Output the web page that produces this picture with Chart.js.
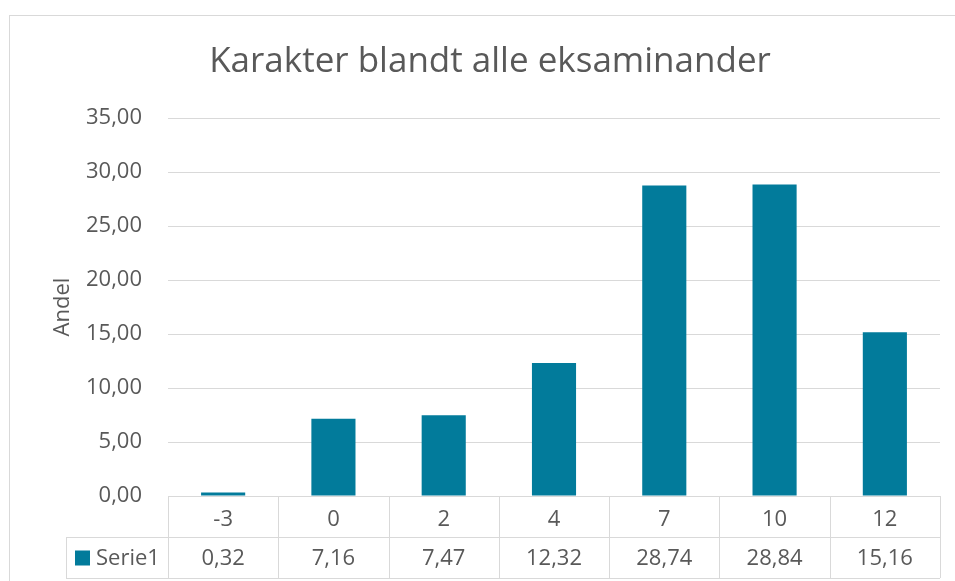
<!DOCTYPE html>
<html><head><meta charset="utf-8">
<script src="https://cdn.jsdelivr.net/npm/chart.js@4/dist/chart.umd.min.js"></script>
<style>html,body{margin:0;padding:0;background:#fff;}#wrap{width:955px;height:581px;position:relative;}</style>
</head><body><div id="wrap"><canvas id="c" width="955" height="581"></canvas></div>
<script>
const categories = ['-3', '0', '2', '4', '7', '10', '12'];
const seriesName = 'Serie1';
const values = [0.32, 7.16, 7.47, 12.32, 28.74, 28.84, 15.16];
const yMin = 0, yMax = 35, yStep = 5;
const chartTitle = 'Karakter blandt alle eksaminander';
const yAxisTitle = 'Andel';

const FONT = "'Open Sans', 'Noto Sans', sans-serif";
const TEXT = '#595959';
const GRID = '#d9d9d9';
const BAR = '#027b9b';
const fmt = v => Number(v).toFixed(2).replace('.', ',');

const tablePlugin = {
  id: 'dataTable',
  beforeDraw(chart) {
    const ctx = chart.ctx;
    ctx.save();
    ctx.fillStyle = '#fff';
    ctx.fillRect(0, 0, chart.width, chart.height);
    ctx.strokeStyle = GRID; ctx.lineWidth = 1;
    ctx.strokeRect(9.5, 15.5, chart.width + 20, chart.height + 20);
    ctx.restore();
  },
  afterDraw(chart) {
    const ctx = chart.ctx, xs = chart.scales.x, a = chart.chartArea;
    const n = categories.length;
    const step = xs.getPixelForValue(1) - xs.getPixelForValue(0);
    const top = Math.round(a.bottom), mid = top + 41, bot = top + 82;
    const legLeft = 66;
    ctx.save();
    ctx.strokeStyle = GRID; ctx.lineWidth = 1;
    const line = (x1, y1, x2, y2) => { ctx.beginPath(); ctx.moveTo(x1, y1); ctx.lineTo(x2, y2); ctx.stroke(); };
    line(legLeft, mid + 0.5, a.right, mid + 0.5);
    line(legLeft, bot + 0.5, a.right, bot + 0.5);
    line(legLeft + 0.5, mid, legLeft + 0.5, bot);
    for (let i = 0; i <= n; i++) {
      const xx = Math.round(xs.getPixelForValue(0) - step / 2 + i * step) + 0.5;
      line(xx, top, xx, bot);
    }
    ctx.font = '22px ' + FONT;
    ctx.fillStyle = TEXT;
    ctx.textAlign = 'center'; ctx.textBaseline = 'middle';
    const cy = (mid + bot) / 2 + 1;
    values.forEach((v, i) => ctx.fillText(fmt(v), xs.getPixelForValue(i), cy));
    ctx.fillStyle = BAR;
    ctx.fillRect(75, cy - 8, 15, 15);
    ctx.fillStyle = TEXT; ctx.textAlign = 'left';
    ctx.fillText(seriesName, 96, cy);
    ctx.restore();
  }
};

new Chart(document.getElementById('c'), {
  type: 'bar',
  data: {
    labels: categories,
    datasets: [{ label: seriesName, data: values, backgroundColor: BAR, barPercentage: 0.4, categoryPercentage: 1.0 }]
  },
  options: {
    responsive: false, animation: false,
    layout: { padding: { left: 40, right: 15, top: 0, bottom: 44 } },
    plugins: {
      legend: { display: false },
      tooltip: { enabled: false },
      title: { display: true, text: chartTitle, color: TEXT, font: { family: FONT, size: 35, weight: 'normal' }, padding: { top: 41, bottom: 35 } }
    },
    scales: {
      x: {
        grid: { display: false },
        border: { display: true, color: GRID },
        ticks: { color: TEXT, font: { family: FONT, size: 22 }, padding: 3, maxRotation: 0 },
        afterFit(s) { s.height = 41; }
      },
      y: {
        min: yMin, max: yMax,
        grid: { color: GRID, drawTicks: false },
        border: { display: false },
        ticks: { stepSize: yStep, color: TEXT, font: { family: FONT, size: 22 }, padding: 26, callback: v => fmt(v) },
        title: { display: true, text: yAxisTitle, color: TEXT, font: { family: FONT, size: 22 }, padding: { top: 10, bottom: 0 } },
        afterFit(s) { s.width = 128; }
      }
    }
  },
  plugins: [tablePlugin]
});
</script></body></html>
